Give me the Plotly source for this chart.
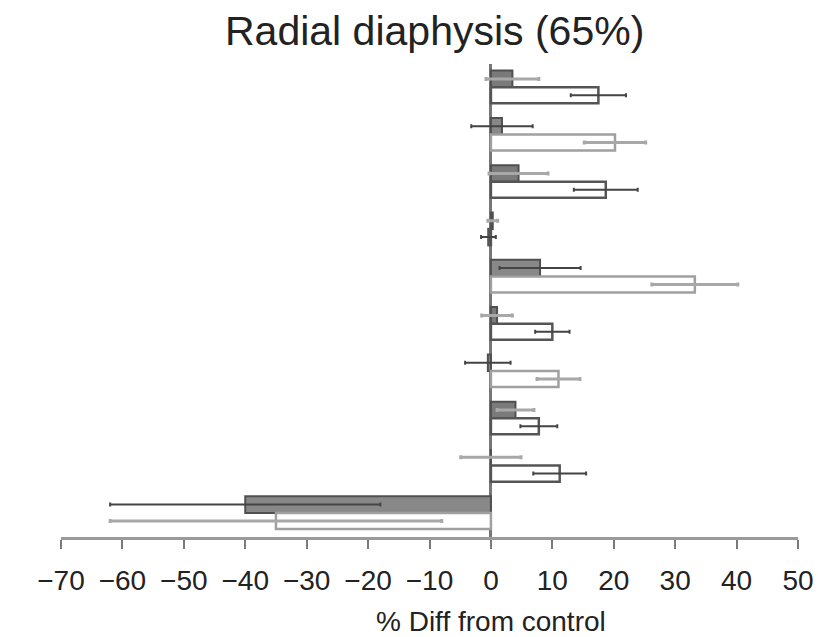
import plotly.graph_objects as go

# Data
groups = list(range(10))
a_values = [3.5, 1.8, 4.5, 0.3, 8.0, 1.0, -0.5, 4.0, 0.0, -40.0]
a_errors = [4.3, 5.0, 4.8, 0.8, 6.6, 2.5, 3.7, 3.0, 4.9, 22.0]
b_values = [17.5, 20.2, 18.7, -0.4, 33.2, 10.0, 11.0, 7.8, 11.2, -35.0]
b_errors = [4.5, 5.0, 5.2, 1.2, 7.0, 2.8, 3.5, 3.0, 4.3, 27.0]
group_style = ["D", "L", "D", "D", "L", "D", "L", "D", "D", "L"]
tick_vals = [-70, -60, -50, -40, -30, -20, -10, 0, 10, 20, 30, 40, 50]
tick_text = ["\u221270", "\u221260", "\u221250", "\u221240", "\u221230", "\u221220",
             "\u221210", "0", "10", "20", "30", "40", "50"]
title_text = "Radial diaphysis (65%)"
x_title = "% Diff from control"


def pick(vals, style):
    return [v if s == style else None for v, s in zip(vals, group_style)]


styles = {
    "D": dict(a_fill="#7a7a7a", a_line="#505050", a_err="#a8a8a8", a_errw=3,
              b_fill="#ffffff", b_line="#555555", b_err="#444444", b_errw=2),
    "L": dict(a_fill="#888888", a_line="#505050", a_err="#444444", a_errw=2,
              b_fill="#ffffff", b_line="#a0a0a0", b_err="#a8a8a8", b_errw=3),
}

fig = go.Figure()
for key, st in styles.items():
    fig.add_trace(go.Bar(
        y=groups, x=pick(a_values, key), orientation="h",
        offset=-0.36, width=0.35,
        marker=dict(color=st["a_fill"], line=dict(color=st["a_line"], width=2)),
        error_x=dict(type="data", array=pick(a_errors, key), color=st["a_err"],
                     thickness=st["a_errw"], width=2),
        showlegend=False,
    ))
    fig.add_trace(go.Bar(
        y=groups, x=pick(b_values, key), orientation="h",
        offset=-0.01, width=0.34,
        marker=dict(color=st["b_fill"], line=dict(color=st["b_line"], width=2.5)),
        error_x=dict(type="data", array=pick(b_errors, key), color=st["b_err"],
                     thickness=st["b_errw"], width=2),
        showlegend=False,
    ))

font_family = "Liberation Sans, Arial, sans-serif"

fig.update_layout(
    width=818, height=637,
    margin=dict(l=61, r=20, t=64, b=100, autoexpand=False),
    barmode="overlay",
    plot_bgcolor="white", paper_bgcolor="white",
    font=dict(family=font_family, color="#222222"),
    title=dict(text=title_text, x=0.507, xref="paper", xanchor="center",
               y=1 - 31 / 637, yref="container", yanchor="middle",
               font=dict(size=41, color="#222222", family=font_family)),
    xaxis=dict(
        range=[-70, 50], tickvals=tick_vals, ticktext=tick_text,
        automargin=False,
        showgrid=False, zeroline=True, zerolinecolor="#777777", zerolinewidth=2.5,
        showline=True, linecolor="#9a9a9a", linewidth=3,
        ticks="outside", ticklen=9, tickwidth=2, tickcolor="#7a7a7a",
        tickfont=dict(size=28, color="#222222"),
        ticklabelstandoff=7,
    ),
    yaxis=dict(range=[9.5, -0.5], showgrid=False, zeroline=False,
               showticklabels=False, ticks="", showline=False, automargin=False),
    annotations=[dict(text=x_title, x=0, xref="x", y=0, yref="paper",
                      yshift=-67, xanchor="center", yanchor="top",
                      showarrow=False,
                      font=dict(size=28, color="#222222", family=font_family))],
)

fig.write_html("out.html")
